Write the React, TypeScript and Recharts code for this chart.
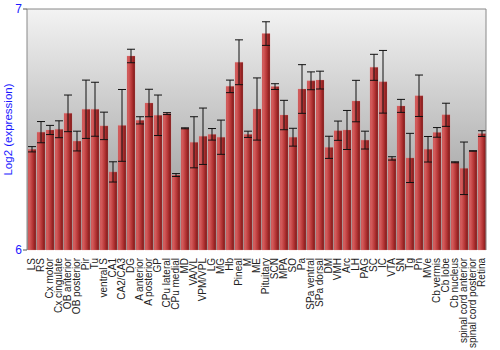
import { Bar, BarChart, CartesianGrid, ErrorBar, ReferenceLine, XAxis, YAxis } from "recharts";

const regions = [
  "LS", "RS", "Cx motor", "Cx cingulate", "OB anterior", "OB posterior", "Pir", "Tu", "ventral S", "CA1",
  "CA2/CA3", "DG", "A anterior", "A posterior", "GP", "CPu lateral", "CPu medial", "MD", "VA/VL", "VPM/VPL",
  "LG", "MG", "Hb", "Pineal", "M", "ME", "Pituitary", "SCN", "MPA", "SO",
  "Pa", "SPa ventral", "SPa dorsal", "DM", "VMH", "Arc", "LH", "PAG", "SC", "IC",
  "VTA", "SN", "Tg", "Pn", "MVe", "Cb vermis", "Cb lobe", "Cb nucleus", "spinal cord anterior", "spinal cord posterior",
  "Retina",
];

const expression = [
  6.418, 6.489, 6.498, 6.501, 6.567, 6.452, 6.584, 6.584, 6.515, 6.324,
  6.517, 6.805, 6.538, 6.61, 6.559, 6.566, 6.311, 6.505, 6.447, 6.472,
  6.48, 6.468, 6.679, 6.779, 6.48, 6.585, 6.898, 6.678, 6.56, 6.468,
  6.668, 6.702, 6.705, 6.426, 6.495, 6.498, 6.618, 6.456, 6.758, 6.698,
  6.38, 6.598, 6.382, 6.64, 6.418, 6.488, 6.561, 6.364, 6.339, 6.411,
  6.483,
];

const spread = [
  0.011, 0.044, 0.019, 0.035, 0.076, 0.041, 0.121, 0.112, 0.057, 0.042,
  0.149, 0.028, 0.015, 0.057, 0.084, 0.004, 0.006, 0.002, 0.106, 0.117,
  0.024, 0.071, 0.026, 0.093, 0.013, 0.129, 0.049, 0.012, 0.061, 0.037,
  0.101, 0.037, 0.037, 0.046, 0.04, 0.081, 0.086, 0.037, 0.054, 0.13,
  0.007, 0.027, 0.102, 0.086, 0.053, 0.02, 0.048, 0.002, 0.109, 0.001,
  0.012,
];

const yTicks = [6, 7];

const data = regions.map((name, i) => ({ name, value: expression[i], err: spread[i] }));

const FONT = "'Liberation Sans', Arial, sans-serif";
const BLUE = "#1a1aff";

function RegionTick({ x, y, payload }: any) {
  return (
    <text
      x={x}
      y={y}
      transform={`rotate(-90, ${x}, ${y})`}
      textAnchor="end"
      dominantBaseline="central"
      fontSize={10}
      fontFamily={FONT}
      fill="#222"
    >
      {payload.value}
    </text>
  );
}

export default function App() {
  return (
    <div style={{ position: "absolute", left: 0, top: 0, width: 500, height: 350, background: "#fff" }}>
      <BarChart
        width={500}
        height={350}
        data={data}
        margin={{ top: 9, right: 0, bottom: 0, left: 0 }}
        barSize={8}
      >
        <defs>
          <linearGradient id="bgGrad" x1="0" y1="0" x2="0" y2="1">
            <stop offset="0%" stopColor="#f3f3f3" />
            <stop offset="100%" stopColor="#8e8e8e" />
          </linearGradient>
          <linearGradient id="barGrad" x1="0" y1="0" x2="1" y2="0">
            <stop offset="0%" stopColor="#c85252" />
            <stop offset="20%" stopColor="#d35a5a" />
            <stop offset="60%" stopColor="#b43434" />
            <stop offset="100%" stopColor="#7a1616" />
          </linearGradient>
        </defs>
        <CartesianGrid fill="url(#bgGrad)" horizontal={false} vertical={false} />
        <XAxis
          dataKey="name"
          interval={0}
          height={100}
          tick={<RegionTick />}
          tickLine={false}
          axisLine={false}
          tickMargin={2}
        />
        <YAxis
          yAxisId="left"
          domain={[6, 7]}
          ticks={yTicks}
          width={27}
          axisLine={{ stroke: "#888" }}
          tickLine={{ stroke: "#555" }}
          tickSize={4}
          tick={{ fill: BLUE, fontSize: 12, fontFamily: FONT }}
          tickMargin={1}
          label={{
            value: "Log2 (expression)",
            angle: -90,
            position: "insideLeft",
            offset: 8,
            style: { fill: BLUE, fontSize: 11.5, fontFamily: FONT, textAnchor: "middle" },
          }}
        />
        <YAxis
          yAxisId="right"
          orientation="right"
          domain={[6, 7]}
          ticks={yTicks}
          width={14}
          axisLine={{ stroke: "#888" }}
          tickLine={{ stroke: "#555" }}
          tickSize={4}
          tick={{ fill: BLUE, fontSize: 12, fontFamily: FONT }}
          tickMargin={1}
        />
        <ReferenceLine yAxisId="left" y={7} stroke="#888" />
        <Bar
          yAxisId="left"
          dataKey="value"
          fill="url(#barGrad)"
          stroke="rgba(230,140,140,0.5)"
          strokeWidth={0.5}
          isAnimationActive={false}
        >
          <ErrorBar dataKey="err" width={4} stroke="#111" strokeWidth={1} />
        </Bar>
      </BarChart>
    </div>
  );
}
